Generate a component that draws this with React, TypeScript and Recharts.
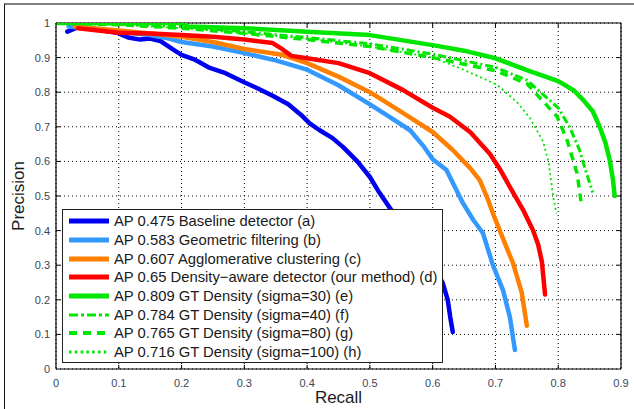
import React from 'react';
import { LineChart, Line, XAxis, YAxis, CartesianGrid, ReferenceLine, Label } from 'recharts';

document.body.style.margin = '0';

const xTicks = [0, 0.1, 0.2, 0.3, 0.4, 0.5, 0.6, 0.7, 0.8, 0.9];
const yTicks = [0, 0.1, 0.2, 0.3, 0.4, 0.5, 0.6, 0.7, 0.8, 0.9, 1];

const baselineRecall = [0.018, 0.035, 0.055, 0.075, 0.097, 0.115, 0.134, 0.15, 0.166, 0.185, 0.2, 0.22, 0.245, 0.27, 0.298, 0.32, 0.345, 0.37, 0.39, 0.404, 0.42, 0.44, 0.457, 0.48, 0.5, 0.515, 0.532, 0.55, 0.57, 0.59, 0.605, 0.616, 0.624, 0.628, 0.632];
const baselinePrecision = [0.975, 0.988, 0.985, 0.978, 0.972, 0.958, 0.952, 0.955, 0.948, 0.925, 0.908, 0.895, 0.87, 0.855, 0.83, 0.812, 0.79, 0.765, 0.735, 0.71, 0.69, 0.668, 0.642, 0.6, 0.555, 0.51, 0.465, 0.42, 0.37, 0.32, 0.285, 0.249, 0.2, 0.15, 0.107];

const geomRecall = [0.02, 0.06, 0.1, 0.15, 0.18, 0.2, 0.25, 0.3, 0.35, 0.4, 0.45, 0.5, 0.53, 0.564, 0.585, 0.6, 0.622, 0.648, 0.665, 0.68, 0.696, 0.712, 0.723, 0.731];
const geomPrecision = [0.99, 0.983, 0.975, 0.965, 0.955, 0.945, 0.932, 0.913, 0.892, 0.865, 0.82, 0.765, 0.73, 0.69, 0.645, 0.606, 0.575, 0.48, 0.43, 0.393, 0.3, 0.228, 0.15, 0.055];

const aggloRecall = [0.03, 0.1, 0.15, 0.2, 0.25, 0.3, 0.36, 0.4, 0.45, 0.5, 0.55, 0.6, 0.632, 0.66, 0.675, 0.688, 0.696, 0.707, 0.718, 0.728, 0.742, 0.75];
const aggloPrecision = [0.99, 0.978, 0.97, 0.96, 0.945, 0.925, 0.908, 0.884, 0.845, 0.8, 0.743, 0.685, 0.633, 0.58, 0.546, 0.49, 0.45, 0.4, 0.35, 0.306, 0.22, 0.125];

const densityRecall = [0.035, 0.06, 0.1, 0.15, 0.2, 0.25, 0.3, 0.345, 0.36, 0.375, 0.4, 0.45, 0.5, 0.553, 0.6, 0.627, 0.66, 0.691, 0.708, 0.723, 0.744, 0.76, 0.768, 0.774, 0.779];
const densityPrecision = [0.985, 0.98, 0.972, 0.97, 0.965, 0.96, 0.952, 0.942, 0.925, 0.905, 0.898, 0.884, 0.855, 0.806, 0.755, 0.73, 0.684, 0.622, 0.575, 0.526, 0.46, 0.4, 0.36, 0.31, 0.215];

const gt30Recall = [0, 0.1, 0.2, 0.21, 0.3, 0.4, 0.5, 0.6, 0.65, 0.7, 0.75, 0.8, 0.825, 0.84, 0.855, 0.866, 0.875, 0.882, 0.887, 0.89];
const gt30Precision = [1, 1, 1, 0.99, 0.985, 0.975, 0.965, 0.936, 0.92, 0.898, 0.864, 0.832, 0.805, 0.777, 0.745, 0.7, 0.655, 0.604, 0.55, 0.5];

const gt40Recall = [0, 0.1, 0.2, 0.3, 0.4, 0.5, 0.6, 0.7, 0.75, 0.8, 0.818, 0.834, 0.845, 0.855];
const gt40Precision = [1, 0.997, 0.99, 0.975, 0.958, 0.94, 0.91, 0.872, 0.835, 0.755, 0.7, 0.633, 0.566, 0.51];

const gt80Recall = [0, 0.1, 0.2, 0.3, 0.4, 0.5, 0.6, 0.7, 0.75, 0.798, 0.814, 0.83, 0.837];
const gt80Precision = [1, 0.995, 0.985, 0.97, 0.952, 0.932, 0.9, 0.862, 0.825, 0.73, 0.662, 0.566, 0.475];

const gt100Recall = [0, 0.1, 0.2, 0.3, 0.4, 0.5, 0.6, 0.648, 0.702, 0.734, 0.755, 0.776, 0.785, 0.792, 0.797];
const gt100Precision = [1, 0.995, 0.985, 0.97, 0.955, 0.932, 0.9, 0.866, 0.822, 0.772, 0.725, 0.657, 0.595, 0.497, 0.45];

const seriesLabels = [
  'AP 0.475 Baseline detector (a)',
  'AP 0.583 Geometric filtering (b)',
  'AP 0.607 Agglomerative clustering (c)',
  'AP 0.65 Density\u2212aware detector (our method) (d)',
  'AP 0.809 GT Density (sigma=30) (e)',
  'AP 0.784 GT Density (sigma=40) (f)',
  'AP 0.765 GT Density (sigma=80) (g)',
  'AP 0.716 GT Density (sigma=100) (h)',
];

const zip = (xs: number[], ys: number[]) => xs.map((x, i) => ({ x, y: ys[i] }));

const GREEN = '#00e600';

const series = [
  { data: zip(baselineRecall, baselinePrecision), color: '#0000f0', width: 4.5, dash: undefined, lw: 5, ldash: undefined },
  { data: zip(geomRecall, geomPrecision), color: '#3399ff', width: 4.5, dash: undefined, lw: 5, ldash: undefined },
  { data: zip(aggloRecall, aggloPrecision), color: '#ff8000', width: 4.5, dash: undefined, lw: 5, ldash: undefined },
  { data: zip(densityRecall, densityPrecision), color: '#ff0000', width: 4.5, dash: undefined, lw: 5, ldash: undefined },
  { data: zip(gt30Recall, gt30Precision), color: GREEN, width: 4.5, dash: undefined, lw: 5, ldash: undefined },
  { data: zip(gt40Recall, gt40Precision), color: GREEN, width: 3, dash: '8 3 2 3', lw: 3, ldash: '9 3 3 3' },
  { data: zip(gt80Recall, gt80Precision), color: GREEN, width: 3.5, dash: '8 6', lw: 4, ldash: '8 6' },
  { data: zip(gt100Recall, gt100Precision), color: GREEN, width: 1.8, dash: '2 3', lw: 3, ldash: '2.5 3.3' },
];

const font = "'Liberation Sans', Arial, Helvetica, sans-serif";
const tickStyle = { fontSize: 11, fill: '#3c4658', fontFamily: font };

const TICK = 0.012;
const XT = 0.9 * TICK / 1.0 * (346 / 565);

export default function App() {
  return (
    <div style={{ position: 'relative', width: 634, height: 409, background: '#fff', overflow: 'hidden' }}>
      <div
        style={{
          position: 'absolute',
          left: 4,
          top: 3,
          width: 700,
          height: 500,
          borderLeft: '1.5px solid #111',
          borderTop: '2px solid #808080',
        }}
      />
      <div style={{ position: 'absolute', left: 0, top: 0 }}>
        <LineChart width={634} height={409} margin={{ top: 23, right: 13, left: 0, bottom: 0 }}>
          <CartesianGrid stroke="#000" strokeDasharray="1 3" strokeWidth={1} />
          <XAxis
            type="number"
            dataKey="x"
            domain={[0, 0.9]}
            ticks={xTicks}
            allowDataOverflow
            height={40}
            tickLine={false}
            tickSize={6}
            tickMargin={4}
            tick={tickStyle}
            axisLine={{ stroke: '#000', strokeWidth: 1.2 }}
            tickFormatter={(v: number) => String(v)}
          >
            <Label value="Recall" position="insideBottom" offset={6} style={{ fontSize: 17, fill: '#1a1a1a', fontFamily: font }} />
          </XAxis>
          <YAxis
            type="number"
            dataKey="y"
            domain={[0, 1]}
            ticks={yTicks}
            allowDataOverflow
            width={56}
            tickLine={false}
            tickSize={6}
            tickMargin={0}
            tick={tickStyle}
            axisLine={{ stroke: '#000', strokeWidth: 1.2 }}
            tickFormatter={(v: number) => String(v)}
          >
            <Label
              content={(props: any) => {
                const vb = props.viewBox || { x: 0, y: 23, width: 56, height: 346 };
                const cx = vb.x + 18;
                const cy = vb.y + vb.height / 2;
                return (
                  <text
                    x={cx}
                    y={cy}
                    transform={`rotate(-90, ${cx}, ${cy})`}
                    textAnchor="middle"
                    dominantBaseline="central"
                    style={{ fontSize: 17, fill: '#1a1a1a', fontFamily: font }}
                  >
                    Precision
                  </text>
                );
              }}
            />
          </YAxis>
          <ReferenceLine x={0.9} stroke="#000" strokeWidth={1.2} ifOverflow="visible" />
          <ReferenceLine y={1} stroke="#000" strokeWidth={1.2} ifOverflow="visible" />
          {xTicks.slice(1, -1).map((t) => (
            <ReferenceLine key={'xb' + t} segment={[{ x: t, y: 0 }, { x: t, y: TICK }]} stroke="#000" strokeWidth={1} />
          ))}
          {xTicks.slice(1, -1).map((t) => (
            <ReferenceLine key={'xt' + t} segment={[{ x: t, y: 1 }, { x: t, y: 1 - TICK }]} stroke="#000" strokeWidth={1} />
          ))}
          {yTicks.slice(1, -1).map((t) => (
            <ReferenceLine key={'yl' + t} segment={[{ x: 0, y: t }, { x: XT, y: t }]} stroke="#000" strokeWidth={1} />
          ))}
          {yTicks.slice(1, -1).map((t) => (
            <ReferenceLine key={'yr' + t} segment={[{ x: 0.9, y: t }, { x: 0.9 - XT, y: t }]} stroke="#000" strokeWidth={1} />
          ))}
          {series.map((s, i) => (
            <Line
              key={i}
              data={s.data}
              dataKey="y"
              type="linear"
              stroke={s.color}
              strokeWidth={s.width}
              strokeDasharray={s.dash}
              strokeLinejoin="round"
              strokeLinecap={s.dash ? 'butt' : 'round'}
              dot={false}
              activeDot={false}
              isAnimationActive={false}
            />
          ))}
        </LineChart>
      </div>
      <div
        style={{
          position: 'absolute',
          left: 62,
          top: 209,
          width: 381,
          height: 154,
          boxSizing: 'border-box',
          border: '1.3px solid #222',
          background: '#fff',
          paddingTop: 2,
          fontFamily: font,
          fontSize: 14.8,
          color: '#1a1a1a',
        }}
      >
        {seriesLabels.map((label, i) => (
          <div key={i} style={{ height: 18.7, display: 'flex', alignItems: 'center', whiteSpace: 'nowrap' }}>
            <svg width={42} height={10} style={{ marginLeft: 6, flexShrink: 0 }}>
              <line
                x1={0}
                y1={5}
                x2={40}
                y2={5}
                stroke={series[i].color}
                strokeWidth={series[i].lw}
                strokeDasharray={series[i].ldash}
              />
            </svg>
            <span style={{ marginLeft: 3 }}>{label}</span>
          </div>
        ))}
      </div>
    </div>
  );
}
